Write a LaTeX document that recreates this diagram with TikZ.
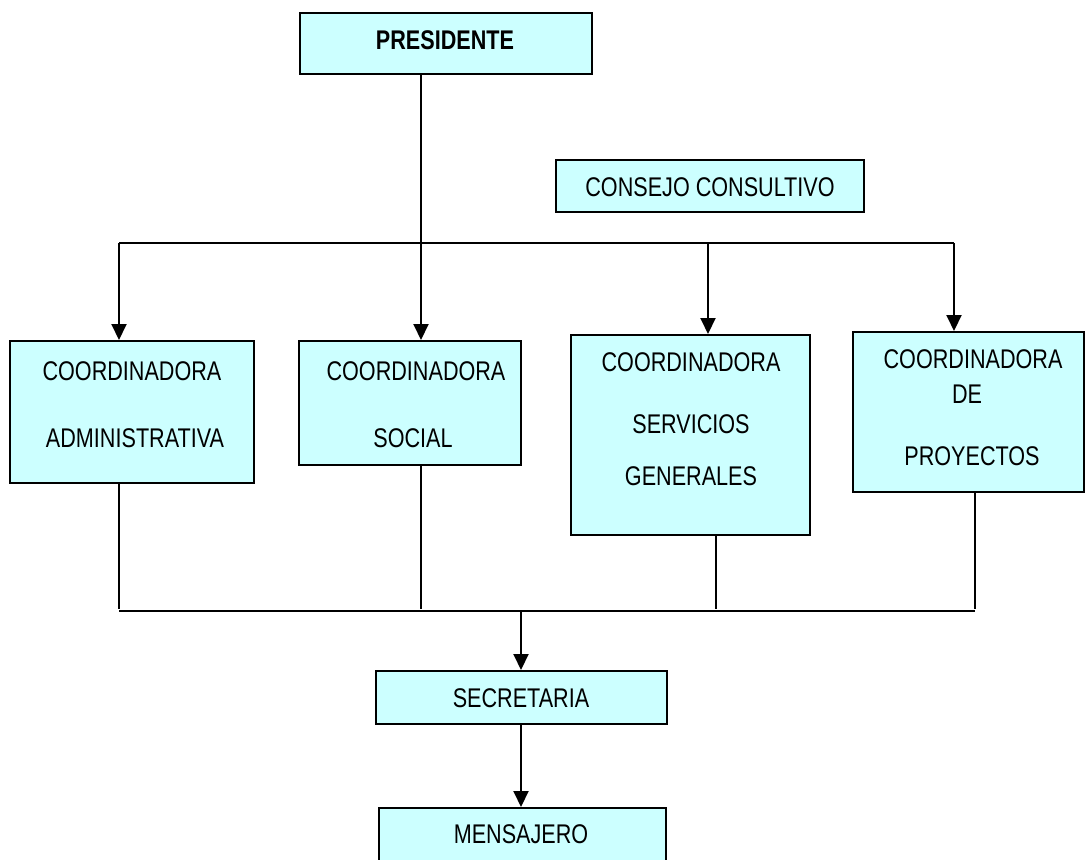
\documentclass[tikz,border=0pt]{standalone}
\usepackage{fontspec}
\setmainfont{Liberation Sans}[FakeStretch=0.8]
\usetikzlibrary{arrows.meta}
\definecolor{boxcyan}{HTML}{CCFFFF}
\begin{document}
\begin{tikzpicture}[x=1pt,y=-1pt,
  box/.style={draw=black,line width=2pt,fill=boxcyan,inner sep=0pt},
  lbl/.style={font=\fontsize{27}{30}\selectfont,inner sep=0pt,anchor=base},
  ln/.style={line width=2pt},
  arr/.style={ln,-{Triangle[width=15pt,length=16pt]}}]
\useasboundingbox (0,0) rectangle (1086,859);
% boxes
\node[box,minimum width=292pt,minimum height=61pt] (pres) at (446,43.5) {};
\node[box,minimum width=308pt,minimum height=52pt] (cons) at (710,186) {};
\node[box,minimum width=244pt,minimum height=142pt] (adm) at (132,412) {};
\node[box,minimum width=222pt,minimum height=124pt] (soc) at (410,403) {};
\node[box,minimum width=239pt,minimum height=200pt] (ser) at (690.5,435) {};
\node[box,minimum width=231pt,minimum height=160pt] (pro) at (968.5,412) {};
\node[box,minimum width=291pt,minimum height=53pt] (sec) at (521.5,697.5) {};
\node[box,minimum width=287pt,minimum height=62pt] (men) at (522.5,839) {};
% texts
\node[lbl,font=\fontsize{27}{30}\selectfont\bfseries] (tpres) at (445,50) {PRESIDENTE};
\node[lbl] (tcons) at (710,196) {CONSEJO CONSULTIVO};
\node[lbl] (tadm1) at (132,380) {COORDINADORA};
\node[lbl] (tadm2) at (135,447) {ADMINISTRATIVA};
\node[lbl] (tsoc1) at (416,380) {COORDINADORA};
\node[lbl] (tsoc2) at (413,447) {SOCIAL};
\node[lbl] (tser1) at (691,371) {COORDINADORA};
\node[lbl] (tser2) at (691,433) {SERVICIOS};
\node[lbl] (tser3) at (691,485) {GENERALES};
\node[lbl] (tpro1) at (973,368) {COORDINADORA};
\node[lbl] (tpro2) at (967,403) {DE};
\node[lbl] (tpro3) at (972,465) {PROYECTOS};
\node[lbl] (tsec) at (521,707) {SECRETARIA};
\node[lbl] (tmen) at (521,843) {MENSAJERO};
% top connectors
\coordinate (b1) at (119,243);
\coordinate (b2) at (421,243);
\coordinate (b3) at (708,243);
\coordinate (b4) at (954,243);
\draw[ln] (b1) -- (b4);
\draw[arr] (pres.south -| b2) -- (b2 |- soc.north);
\draw[arr] (b1) -- (b1 |- adm.north);
\draw[arr] (b3) -- (b3 |- ser.north);
\draw[arr] (b4) -- (b4 |- pro.north);
% bottom connectors
\coordinate (c1) at (119,611);
\coordinate (c2) at (421,611);
\coordinate (c3) at (716,611);
\coordinate (c4) at (975,611);
\coordinate (c5) at (521,611);
\draw[ln] (c1) -- (c4);
\draw[ln] (c1 |- adm.south) -- ([yshift=2pt]c1);
\draw[ln] (c2 |- soc.south) -- ([yshift=2pt]c2);
\draw[ln] (c3 |- ser.south) -- ([yshift=2pt]c3);
\draw[ln] (c4 |- pro.south) -- ([yshift=2pt]c4);
\draw[arr] (c5) -- (c5 |- sec.north);
\draw[arr] (sec.south -| c5) -- (c5 |- men.north);
\end{tikzpicture}
\end{document}
